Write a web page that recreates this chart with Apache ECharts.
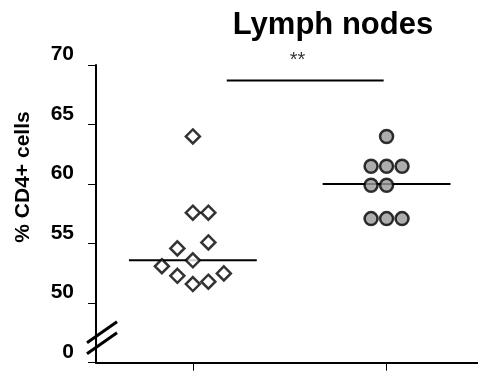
<!DOCTYPE html>
<html>
<head>
<meta charset="utf-8">
<script src="https://cdn.jsdelivr.net/npm/echarts@6/dist/echarts.min.js"></script>
<style>html,body{margin:0;padding:0;background:#fff}#c{width:478px;height:371px}</style>
</head>
<body>
<div id="c"></div>
<script>
// Group 1 (open diamonds): [x position, value]
const groupA = [
  [1.00, 64.0],
  [1.00, 57.6], [1.08, 57.6],
  [1.08, 55.1],
  [0.92, 54.6],
  [1.00, 53.6],
  [0.84, 53.1],
  [1.16, 52.5],
  [0.92, 52.3],
  [1.08, 51.8],
  [1.00, 51.6]
];
// Group 2 (grey circles)
const groupB = [
  [2.00, 64.0],
  [1.92, 61.5], [2.00, 61.5], [2.08, 61.5],
  [1.92, 59.9], [2.00, 59.9],
  [1.92, 57.1], [2.00, 57.1], [2.08, 57.1]
];
const groupCenters = [1, 2];
const medians = [53.6, 60.0];
const medianHalfWidth = 0.33;
const sigBar = [[1.175, 68.7], [1.985, 68.7]];
const sigText = '**';
const yTicks = [45, 50, 55, 60, 65, 70];
const yTickLabels = ['0', '50', '55', '60', '65', '70'];
const titleText = 'Lymph nodes';
const yName = '% CD4+ cells';

const FONT = 'Liberation Sans, Arial, sans-serif';
const chart = echarts.init(document.getElementById('c'));

const medianSeries = medians.map((m, i) => ({
  type: 'line',
  data: [[groupCenters[i] - medianHalfWidth, m], [groupCenters[i] + medianHalfWidth, m]],
  symbol: 'none',
  lineStyle: { color: '#000', width: 2 },
  silent: true,
  z: 1
}));

chart.setOption({
  animation: false,
  title: {
    text: titleText,
    left: 328, top: 5, textAlign: 'center',
    textStyle: { fontFamily: FONT, fontWeight: 'bold', fontSize: 31, color: '#000' }
  },
  grid: { left: 96, right: 0, top: 65, bottom: 8.3, containLabel: false },
  xAxis: {
    type: 'value', min: 0.5, max: 2.472,
    splitLine: { show: false },
    axisLine: { show: true, lineStyle: { color: '#000', width: 2 } },
    axisTick: { show: true, customValues: groupCenters, length: 8, lineStyle: { color: '#000', width: 1 } },
    axisLabel: { show: false }
  },
  yAxis: {
    type: 'value', min: 45, max: 70, interval: 5,
    splitLine: { show: false },
    axisLine: { show: true, lineStyle: { color: '#000', width: 2 } },
    axisTick: { show: true, length: 8, lineStyle: { color: '#000', width: 1 } },
    axisLabel: {
      margin: 22,
      formatter: v => yTickLabels[yTicks.indexOf(v)],
      fontFamily: FONT, fontWeight: 'bold', fontSize: 21, color: '#000',
      verticalAlign: 'bottom'
    }
  },
  series: [
    ...medianSeries,
    {
      type: 'line', data: sigBar, symbol: 'none',
      lineStyle: { color: '#000', width: 2 }, silent: true
    },
    {
      type: 'scatter', clip: false,
      data: [[(sigBar[0][0] + sigBar[1][0]) / 2 - 0.04, sigBar[0][1]]],
      symbolSize: 0,
      label: { show: true, position: 'inside', offset: [0, -20], formatter: sigText,
        fontFamily: FONT, fontSize: 20, color: '#000' }
    },
    {
      type: 'scatter', data: groupA, symbol: 'diamond', symbolSize: 14,
      itemStyle: { color: '#fff', borderColor: '#000', borderWidth: 2.5 }, z: 3
    },
    {
      type: 'scatter', data: groupB, symbol: 'circle', symbolSize: 13,
      itemStyle: { color: '#999999', borderColor: '#000', borderWidth: 2.5 }, z: 3
    }
  ]
});

// axis-break marks and y axis name
const origin = chart.convertToPixel({ gridIndex: 0 }, [0.5, 45]);
const ax = origin[0], ay = origin[1];
chart.setOption({
  graphic: [
    { type: 'line', shape: { x1: ax - 9, y1: ay - 20, x2: ax + 21, y2: ay - 41 },
      style: { stroke: '#000', lineWidth: 3 }, z: 10 },
    { type: 'line', shape: { x1: ax - 9, y1: ay - 9, x2: ax + 21, y2: ay - 30 },
      style: { stroke: '#000', lineWidth: 3 }, z: 10 },
    { type: 'text', x: 23, y: 177, rotation: Math.PI / 2,
      style: { text: yName, fill: '#000', font: 'bold 21px ' + FONT, align: 'center', verticalAlign: 'middle' } }
  ]
});
</script>
</body>
</html>
